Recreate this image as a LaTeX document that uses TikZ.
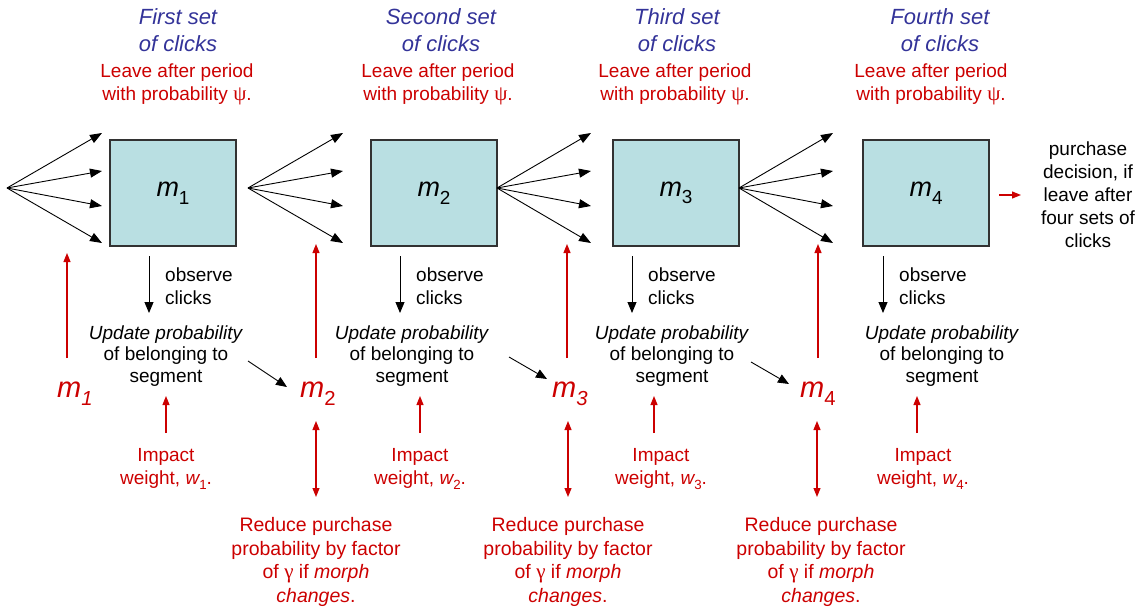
\documentclass[tikz,border=0pt]{standalone}
\usepackage{fontspec}
\setmainfont{Liberation Sans}
\newfontfamily\grk{Liberation Serif}
\usetikzlibrary{arrows.meta}
\definecolor{tblue}{RGB}{51,51,153}
\definecolor{tred}{RGB}{204,0,0}
\definecolor{boxfill}{RGB}{185,223,226}
\definecolor{boxline}{RGB}{50,50,50}
\newcommand\subx[1]{\raisebox{-0.28em}{\scalebox{0.7}{#1}}}
\begin{document}
\begin{tikzpicture}[x=1pt,y=-1pt,
  every node/.style={inner sep=0pt},
  mbox/.style={draw=boxline, line width=1.2pt, fill=boxfill, minimum width=126pt, minimum height=106pt, font=\fontsize{27}{27}\selectfont},
  fanarr/.style={-{Triangle[length=12pt,width=9pt]}, line width=0.9pt, black},
  blkarr/.style={-{Triangle[length=11pt,width=9pt]}, line width=0.9pt, black},
  redarr/.style={-{Triangle[length=9pt,width=7pt]}, tred, line width=1.1pt},
  dblarr/.style={{Triangle[length=9pt,width=7pt]}-{Triangle[length=9pt,width=7pt]}, tred, line width=1.1pt},
  titletxt/.style={tblue, font=\fontsize{22}{27}\selectfont\itshape, align=center},
  redtxt/.style={tred, font=\fontsize{19}{23}\selectfont, align=center},
  reducetxt/.style={tred, font=\fontsize{19.5}{23.5}\selectfont, align=center},
  blktxt/.style={font=\fontsize{19}{23}\selectfont, align=center},
  updtxt/.style={font=\fontsize{19}{21.5}\selectfont, align=center},
  redm/.style={tred, font=\fontsize{29}{29}\selectfont\itshape, anchor=base west}
]
\useasboundingbox (0,0) rectangle (1143,607);

% boxes, titles, leave texts, observe, update, impact
\foreach \i/\bx/\tx/\lx/\ox/\otx/\ux/\ix/\itx in {
  1/173/178/177/149/165/166/166/166,
  2/434/441/438/400/416/412/420/420,
  3/676/677/675/632/648/672/654/661,
  4/926/940/931/883/899/942/917/923}{
  \node[mbox] (box\i) at (\bx,193) {{\itshape m}\subx{\i}};
  \node[titletxt] (title\i) at (\tx,30) {\ifcase\i\or First\or Second\or Third\or Fourth\fi{} set\\of clicks};
  \node[redtxt] (leave\i) at (\lx,84) {Leave after period\\with probability {\grk\fontsize{21}{23}\selectfont ψ}.};
  \coordinate (obs\i s) at (\ox,256);
  \coordinate (obs\i e) at (\ox,313);
  \draw[blkarr] (obs\i s) -- (obs\i e);
  \node[blktxt, align=left, anchor=west] (obst\i) at (\otx,286) {observe\\clicks};
  \node[updtxt] (upd\i) at (\ux,356) {\textit{Update probability}\\of belonging to\\segment};
  \coordinate (imp\i s) at (\ix,433);
  \coordinate (imp\i e) at (\ix,396);
  \draw[redarr] (imp\i s) -- (imp\i e);
  \node[redtxt, align=center] (impt\i) at (\itx,469) {Impact\\weight, {\itshape w}\subx{\i}.};
}

% fans
\foreach \i/\ox/\tipx in {1/7/102, 2/248/343, 3/497/591, 4/739/833}{
  \coordinate (fan\i o) at (\ox,188);
  \foreach \j/\ty in {a/133, b/171, c/206, d/243}{
    \coordinate (fan\i\j) at (\tipx,\ty);
    \draw[fanarr] (fan\i o) -- (fan\i\j);
  }
}

% red m labels and up arrows
\node[redm] (rm1) at (57,397) {m\subx{1}};
\node[redm] (rm2) at (300,397) {m\subx{\upshape 2}};
\node[redm] (rm3) at (552,397) {m\subx{3}};
\node[redm] (rm4) at (800,397) {m\subx{\upshape 4}};
\foreach \i/\ax/\ay in {1/67/253, 2/316/244, 3/567/244, 4/818/244}{
  \coordinate (up\i s) at (\ax,358);
  \coordinate (up\i e) at (\ax,\ay);
  \draw[redarr] (up\i s) -- (up\i e);
}

% diagonal arrows from update to next m
\coordinate (dg1s) at (248,361); \coordinate (dg1e) at (287,387);
\coordinate (dg2s) at (509,357); \coordinate (dg2e) at (547,379);
\coordinate (dg3s) at (751,362); \coordinate (dg3e) at (789,384);
\foreach \i in {1,2,3}{ \draw[blkarr] (dg\i s) -- (dg\i e); }

% double arrows and reduce texts
\foreach \i/\ax/\rx in {2/316/316, 3/568/568, 4/817/821}{
  \coordinate (db\i s) at (\ax,421);
  \coordinate (db\i e) at (\ax,497);
  \draw[dblarr] (db\i s) -- (db\i e);
  \node[reducetxt] (red\i) at (\rx,562) {Reduce purchase\\probability by factor\\of {\grk\fontsize{21}{23}\selectfont γ} if \textit{morph}\\\textit{changes}.};
}

% purchase decision
\coordinate (pd s) at (999,195);
\coordinate (pd e) at (1021,195);
\draw[-{Triangle[length=9pt,width=7pt]}, tred, line width=1.1pt] (pd s) -- (pd e);
\node[blktxt] (purch) at (1088,195) {purchase\\decision, if\\leave after\\four sets of\\clicks};
\end{tikzpicture}
\end{document}
